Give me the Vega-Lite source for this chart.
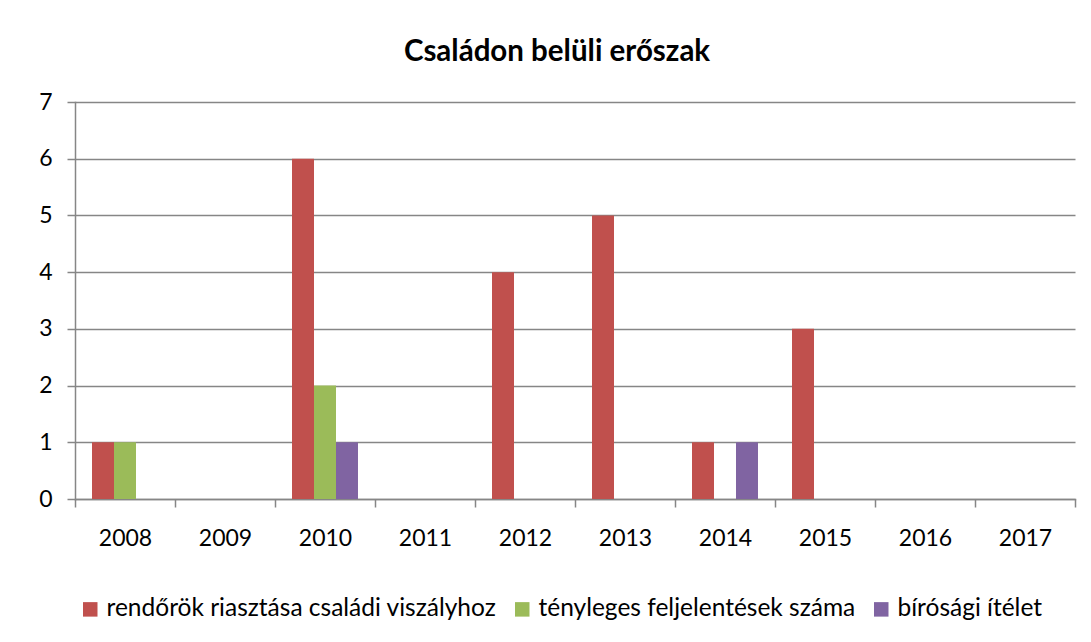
{
  "$schema": "https://vega.github.io/schema/vega-lite/v6.json",
  "width": 1000,
  "height": 397,
  "autosize": {"type": "none"},
  "padding": {"left": 75, "top": 102, "right": 16, "bottom": 143},
  "background": "white",
  "title": {
    "text": "Családon belüli erőszak",
    "font": "Lato",
    "fontSize": 29.5,
    "fontWeight": "bold",
    "color": "black",
    "anchor": "middle",
    "dx": -18,
    "offset": 24
  },
  "data": {
    "values": [
      {"year": "2008", "series": "rendőrök riasztása családi viszályhoz", "value": 1},
      {"year": "2008", "series": "tényleges feljelentések száma", "value": 1},
      {"year": "2010", "series": "rendőrök riasztása családi viszályhoz", "value": 6},
      {"year": "2010", "series": "tényleges feljelentések száma", "value": 2},
      {"year": "2010", "series": "bírósági ítélet", "value": 1},
      {"year": "2012", "series": "rendőrök riasztása családi viszályhoz", "value": 4},
      {"year": "2013", "series": "rendőrök riasztása családi viszályhoz", "value": 5},
      {"year": "2014", "series": "rendőrök riasztása családi viszályhoz", "value": 1},
      {"year": "2014", "series": "bírósági ítélet", "value": 1},
      {"year": "2015", "series": "rendőrök riasztása családi viszályhoz", "value": 3}
    ]
  },
  "mark": {"type": "bar"},
  "encoding": {
    "x": {
      "field": "year",
      "type": "nominal",
      "scale": {
        "domain": ["2008", "2009", "2010", "2011", "2012", "2013", "2014", "2015", "2016", "2017"],
        "paddingInner": 0,
        "paddingOuter": 0
      },
      "axis": {
        "title": null,
        "labelAngle": 0,
        "tickBand": "extent",
        "tickSize": 8,
        "tickColor": "#868686",
        "tickWidth": 1.5,
        "domainColor": "#868686",
        "domainWidth": 1.5,
        "labelFont": "Lato",
        "labelFontSize": 23,
        "labelColor": "black",
        "labelPadding": 20,
        "grid": false
      }
    },
    "xOffset": {
      "field": "series",
      "type": "nominal",
      "scale": {
        "domain": ["rendőrök riasztása családi viszályhoz", "tényleges feljelentések száma", "bírósági ítélet"],
        "paddingInner": 0,
        "paddingOuter": 0.773
      }
    },
    "y": {
      "field": "value",
      "type": "quantitative",
      "scale": {"domain": [0, 7], "nice": false},
      "axis": {
        "title": null,
        "values": [0, 1, 2, 3, 4, 5, 6, 7],
        "tickSize": 8,
        "tickColor": "#868686",
        "tickWidth": 1.5,
        "domainColor": "#868686",
        "domainWidth": 1.5,
        "gridColor": "#868686",
        "gridWidth": 1.5,
        "labelFont": "Lato",
        "labelFontSize": 23,
        "labelColor": "black",
        "labelPadding": 15
      }
    },
    "color": {
      "field": "series",
      "type": "nominal",
      "scale": {
        "domain": ["rendőrök riasztása családi viszályhoz", "tényleges feljelentések száma", "bírósági ítélet"],
        "range": ["#C0504D", "#9BBB59", "#8064A2"]
      },
      "legend": {
        "title": null,
        "orient": "none",
        "direction": "horizontal",
        "legendX": 3,
        "legendY": 495,
        "symbolType": "square",
        "symbolSize": 210,
        "symbolStrokeWidth": 0,
        "symbolOpacity": 1,
        "labelFont": "Lato",
        "labelFontSize": 24.5,
        "labelColor": "black",
        "labelOffset": 4,
        "columnPadding": 13,
        "labelLimit": 600
      }
    }
  },
  "config": {
    "view": {"stroke": null},
    "axis": {"domainCap": "square"}
  }
}
